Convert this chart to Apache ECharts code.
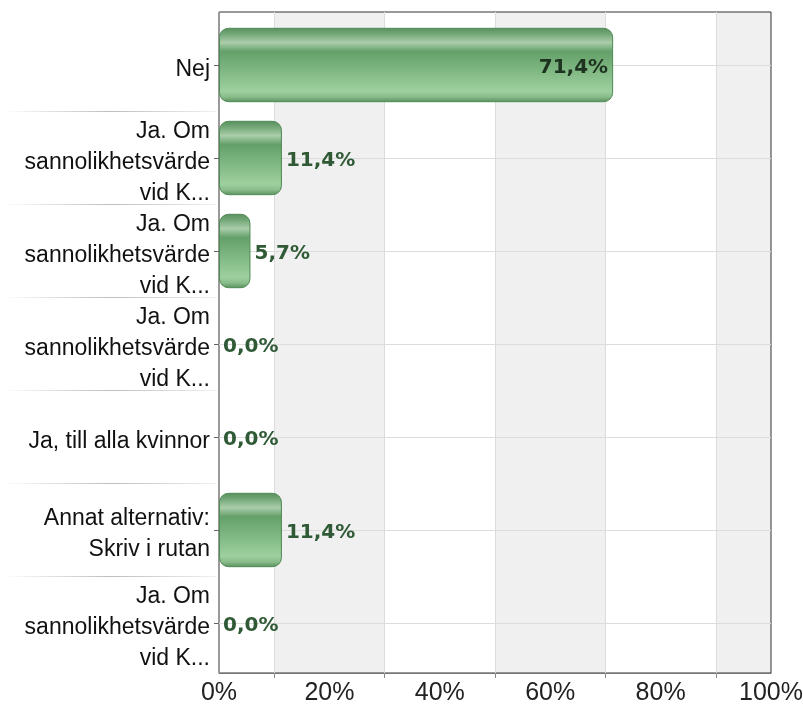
<!DOCTYPE html>
<html>
<head>
<meta charset="utf-8">
<script src="https://cdn.jsdelivr.net/npm/echarts@6/dist/echarts.min.js"></script>
<style>
  html, body { margin: 0; padding: 0; background: #fff; }
  #chart { width: 803px; height: 706px; }
</style>
</head>
<body>
<div id="chart"></div>
<script>
// data
var categories = [
  "Nej",
  "Ja. Om\nsannolikhetsvärde\nvid K...",
  "Ja. Om\nsannolikhetsvärde\nvid K...",
  "Ja. Om\nsannolikhetsvärde\nvid K...",
  "Ja, till alla kvinnor",
  "Annat alternativ:\nSkriv i rutan",
  "Ja. Om\nsannolikhetsvärde\nvid K..."
];
var values = [71.4, 11.4, 5.7, 0, 0, 11.4, 0];
var xTicks = ["0%", "10%", "20%", "30%", "40%", "50%", "60%", "70%", "80%", "90%", "100%"];
var bands = [["10%", "30%"], ["50%", "70%"], ["90%", "100%"]];

var chart = echarts.init(document.getElementById("chart"));

var oddTick = function(index) {
  return index % 2 === 1; // grid lines / ticks sit between the labels
};

var barColor = new echarts.graphic.LinearGradient(0, 0, 0, 1, [
  { offset: 0, color: "#578f5d" },
  { offset: 0.08, color: "#72a676" },
  { offset: 0.2, color: "#aacdaa" },
  { offset: 0.32, color: "#64a069" },
  { offset: 0.85, color: "#9dd09e" },
  { offset: 0.93, color: "#88bc8a" },
  { offset: 1, color: "#578f5d" }
]);

var sepColor = new echarts.graphic.LinearGradient(0, 0, 1, 0, [
  { offset: 0, color: "rgba(190,190,190,0)" },
  { offset: 0.5, color: "rgba(190,190,190,1)" },
  { offset: 1, color: "rgba(190,190,190,0.2)" }
]);

var option = {
  animation: false,
  grid: [
    // frame + background bands
    { left: 219, right: 32, top: 12, bottom: 33, show: true, borderColor: "#333", borderWidth: 1, outerBoundsMode: "none" },
    // bars
    { left: 219, right: 32, top: 18.5, bottom: 36.5, outerBoundsMode: "none" },
    // separators in the label area
    { left: 5, right: 586, top: 18.5, bottom: 36.5, outerBoundsMode: "none" }
  ],
  xAxis: [
    {
      gridIndex: 0,
      type: "category",
      data: xTicks,
      boundaryGap: false,
      axisLine: { lineStyle: { color: "#777" } },
      axisTick: { show: true, interval: oddTick, length: 5, lineStyle: { color: "#888" } },
      axisLabel: {
        interval: 1,
        margin: 8,
        color: "#222",
        fontSize: 25,
        fontFamily: "Liberation Sans"
      },
      splitLine: { show: true, interval: oddTick, lineStyle: { color: "#dcdcdc" } }
    },
    { gridIndex: 1, type: "value", min: 0, max: 100, show: false },
    { gridIndex: 2, type: "value", min: 0, max: 1, show: false }
  ],
  yAxis: [
    {
      gridIndex: 0,
      type: "value",
      min: 0,
      max: 1,
      axisLine: { show: true, lineStyle: { color: "#999" } },
      axisTick: { show: false },
      axisLabel: { show: false },
      splitLine: { show: false }
    },
    {
      gridIndex: 1,
      type: "category",
      inverse: true,
      data: categories,
      axisLine: { show: false },
      axisTick: { show: true, alignWithLabel: true, length: 5, lineStyle: { color: "#666" } },
      axisLabel: {
        interval: 0,
        margin: 9,
        color: "#111",
        fontSize: 23,
        lineHeight: 31,
        fontFamily: "Liberation Sans",
        // small empty first line pushes the text block a few px down
        formatter: function(v) {
          return "{gap|}\n" + v;
        },
        rich: {
          gap: { height: 9, lineHeight: 9 }
        }
      },
      splitLine: { show: false }
    },
    {
      gridIndex: 2,
      type: "category",
      inverse: true,
      data: categories,
      axisLine: { show: false },
      axisTick: { show: false },
      axisLabel: { show: false },
      splitLine: {
        show: true,
        showMinLine: false,
        showMaxLine: false,
        lineStyle: { color: sepColor, width: 1 }
      }
    }
  ],
  series: [
    {
      type: "line",
      xAxisIndex: 0,
      yAxisIndex: 0,
      data: [],
      silent: true,
      markArea: {
        silent: true,
        z: -1,
        itemStyle: { color: "#f0f0f0" },
        data: bands.map(function(b) {
          return [{ xAxis: b[0] }, { xAxis: b[1] }];
        })
      }
    },
    {
      type: "bar",
      xAxisIndex: 1,
      yAxisIndex: 1,
      barWidth: "80%",
      itemStyle: {
        color: barColor,
        borderColor: "#4f8a55",
        borderWidth: 1,
        borderRadius: 9
      },
      label: {
        show: true,
        position: "right",
        distance: 4,
        offset: [0, 3],
        color: "#2f5a35",
        fontFamily: "DejaVu Sans",
        fontWeight: "bold",
        fontSize: 20,
        formatter: function(p) {
          return p.value.toFixed(1).replace(".", ",") + "%";
        }
      },
      data: values.map(function(v) {
        if (v > 50) {
          return { value: v, label: { position: "insideRight", distance: 5, color: "#1d331f" } };
        }
        if (v === 0) {
          return { value: v, itemStyle: { borderWidth: 0 } };
        }
        return v;
      }),
      markLine: {
        silent: true,
        z: 1,
        symbol: "none",
        label: { show: false },
        lineStyle: { color: "#dcdcdc", type: "solid", width: 1 },
        data: categories.map(function(c, i) {
          return { yAxis: i };
        })
      }
    }
  ]
};

chart.setOption(option);
</script>
</body>
</html>
